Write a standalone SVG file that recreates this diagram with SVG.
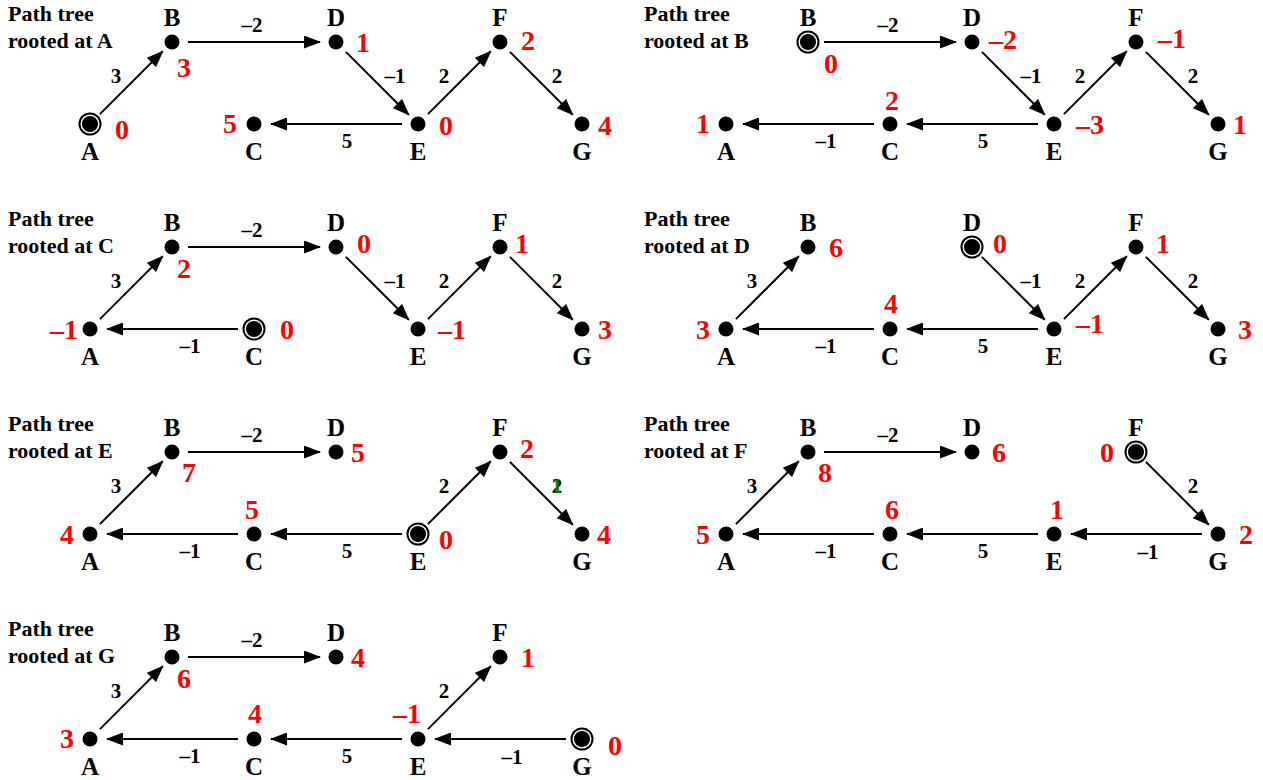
<svg xmlns="http://www.w3.org/2000/svg" width="1263" height="780" viewBox="0 0 1263 780">
<style>
text{font-family:"Liberation Serif","Times New Roman",serif;font-weight:bold}
.title{font-size:22px;fill:#000}
.lbl{font-size:25px;text-anchor:middle;fill:#000}
.w{font-size:21px;text-anchor:middle;fill:#000}
.g{font-size:21px;text-anchor:middle;fill:#008000}
.v{font-size:28px;text-anchor:middle;fill:#ff0000}
.e{stroke:#000;stroke-width:2;fill:none;marker-end:url(#ah)}
.dot{fill:#000}
.ring{fill:none;stroke:#fff;stroke-width:1.5}
</style>
<defs>
<marker id="ah" markerUnits="userSpaceOnUse" viewBox="0 0 17 13" refX="16" refY="6.5" markerWidth="17" markerHeight="13" orient="auto">
<path d="M0,0 L17,6.5 L0,13 Z" fill="#000"/>
</marker>
<line id="eAB" x1="99.9" y1="114.1" x2="162.8" y2="51.2" class="e"/>
<line id="eBD" x1="188" y1="42" x2="320" y2="42" class="e"/>
<line id="eDE" x1="345.9" y1="51.9" x2="408.8" y2="114.8" class="e"/>
<line id="eEF" x1="427.9" y1="114.1" x2="490.8" y2="51.2" class="e"/>
<line id="eFG" x1="509.9" y1="51.9" x2="572.8" y2="114.8" class="e"/>
<line id="eEC" x1="402" y1="124" x2="271" y2="124" class="e"/>
<line id="eCA" x1="238" y1="124" x2="107" y2="124" class="e"/>
<line id="eGE" x1="566" y1="124" x2="435" y2="124" class="e"/>
</defs>

<!-- Panel A -->
<g id="panelA" transform="translate(0,0)">
<text class="title" x="8" y="21">Path tree</text>
<text class="title" x="8" y="48">rooted at A</text>
<g id="pA-edges">
<use href="#eAB"/><use href="#eBD"/><use href="#eDE"/><use href="#eEF"/><use href="#eFG"/><use href="#eEC"/>
<text class="w" x="116" y="83">3</text>
<text class="w" x="252" y="32">–2</text>
<text class="w" x="395" y="83">–1</text>
<text class="w" x="444" y="83">2</text>
<text class="w" x="557" y="83">2</text>
<text class="w" x="347" y="148">5</text>
</g>
<g id="pA-A"><circle cx="90" cy="124" r="11.5" class="dot"/><circle cx="90" cy="124" r="8.8" class="ring"/><text class="lbl" x="90" y="160">A</text><text class="v" x="122" y="139">0</text></g>
<g id="pA-B"><circle cx="172" cy="42" r="7.5" class="dot"/><text class="lbl" x="172" y="26">B</text><text class="v" x="184" y="77">3</text></g>
<g id="pA-C"><circle cx="254" cy="124" r="7.5" class="dot"/><text class="lbl" x="254" y="160">C</text><text class="v" x="230" y="133">5</text></g>
<g id="pA-D"><circle cx="336" cy="42" r="7.5" class="dot"/><text class="lbl" x="336" y="26">D</text><text class="v" x="363" y="52">1</text></g>
<g id="pA-E"><circle cx="418" cy="124" r="7.5" class="dot"/><text class="lbl" x="418" y="160">E</text><text class="v" x="446" y="135">0</text></g>
<g id="pA-F"><circle cx="500" cy="42" r="7.5" class="dot"/><text class="lbl" x="500" y="26">F</text><text class="v" x="528" y="50">2</text></g>
<g id="pA-G"><circle cx="582" cy="124" r="7.5" class="dot"/><text class="lbl" x="582" y="160">G</text><text class="v" x="605" y="135">4</text></g>
</g>

<!-- Panel B -->
<g id="panelB" transform="translate(636,0)">
<text class="title" x="8" y="21">Path tree</text>
<text class="title" x="8" y="48">rooted at B</text>
<g id="pB-edges">
<use href="#eBD"/><use href="#eDE"/><use href="#eEF"/><use href="#eFG"/><use href="#eEC"/><use href="#eCA"/>
<text class="w" x="252" y="32">–2</text>
<text class="w" x="395" y="83">–1</text>
<text class="w" x="444" y="83">2</text>
<text class="w" x="557" y="83">2</text>
<text class="w" x="347" y="148">5</text>
<text class="w" x="190" y="148">–1</text>
</g>
<g id="pB-A"><circle cx="90" cy="124" r="7.5" class="dot"/><text class="lbl" x="90" y="160">A</text><text class="v" x="67" y="133">1</text></g>
<g id="pB-B"><circle cx="172" cy="42" r="11.5" class="dot"/><circle cx="172" cy="42" r="8.8" class="ring"/><text class="lbl" x="172" y="26">B</text><text class="v" x="195" y="73">0</text></g>
<g id="pB-C"><circle cx="254" cy="124" r="7.5" class="dot"/><text class="lbl" x="254" y="160">C</text><text class="v" x="256" y="110">2</text></g>
<g id="pB-D"><circle cx="336" cy="42" r="7.5" class="dot"/><text class="lbl" x="336" y="26">D</text><text class="v" x="367" y="49">–2</text></g>
<g id="pB-E"><circle cx="418" cy="124" r="7.5" class="dot"/><text class="lbl" x="418" y="160">E</text><text class="v" x="454" y="134">–3</text></g>
<g id="pB-F"><circle cx="500" cy="42" r="7.5" class="dot"/><text class="lbl" x="500" y="26">F</text><text class="v" x="536" y="48">–1</text></g>
<g id="pB-G"><circle cx="582" cy="124" r="7.5" class="dot"/><text class="lbl" x="582" y="160">G</text><text class="v" x="604" y="134">1</text></g>
</g>

<!-- Panel C -->
<g id="panelC" transform="translate(0,205)">
<text class="title" x="8" y="21">Path tree</text>
<text class="title" x="8" y="48">rooted at C</text>
<g id="pC-edges">
<use href="#eAB"/><use href="#eBD"/><use href="#eDE"/><use href="#eEF"/><use href="#eFG"/><use href="#eCA"/>
<text class="w" x="116" y="83">3</text>
<text class="w" x="252" y="32">–2</text>
<text class="w" x="395" y="83">–1</text>
<text class="w" x="444" y="83">2</text>
<text class="w" x="557" y="83">2</text>
<text class="w" x="190" y="148">–1</text>
</g>
<g id="pC-A"><circle cx="90" cy="124" r="7.5" class="dot"/><text class="lbl" x="90" y="160">A</text><text class="v" x="64" y="134">–1</text></g>
<g id="pC-B"><circle cx="172" cy="42" r="7.5" class="dot"/><text class="lbl" x="172" y="26">B</text><text class="v" x="184" y="73">2</text></g>
<g id="pC-C"><circle cx="254" cy="124" r="11.5" class="dot"/><circle cx="254" cy="124" r="8.8" class="ring"/><text class="lbl" x="254" y="160">C</text><text class="v" x="287" y="134">0</text></g>
<g id="pC-D"><circle cx="336" cy="42" r="7.5" class="dot"/><text class="lbl" x="336" y="26">D</text><text class="v" x="364" y="48">0</text></g>
<g id="pC-E"><circle cx="418" cy="124" r="7.5" class="dot"/><text class="lbl" x="418" y="160">E</text><text class="v" x="452" y="134">–1</text></g>
<g id="pC-F"><circle cx="500" cy="42" r="7.5" class="dot"/><text class="lbl" x="500" y="26">F</text><text class="v" x="522" y="48">1</text></g>
<g id="pC-G"><circle cx="582" cy="124" r="7.5" class="dot"/><text class="lbl" x="582" y="160">G</text><text class="v" x="605" y="134">3</text></g>
</g>

<!-- Panel D -->
<g id="panelD" transform="translate(636,205)">
<text class="title" x="8" y="21">Path tree</text>
<text class="title" x="8" y="48">rooted at D</text>
<g id="pD-edges">
<use href="#eAB"/><use href="#eDE"/><use href="#eEF"/><use href="#eFG"/><use href="#eEC"/><use href="#eCA"/>
<text class="w" x="116" y="83">3</text>
<text class="w" x="395" y="83">–1</text>
<text class="w" x="444" y="83">2</text>
<text class="w" x="557" y="83">2</text>
<text class="w" x="347" y="148">5</text>
<text class="w" x="190" y="148">–1</text>
</g>
<g id="pD-A"><circle cx="90" cy="124" r="7.5" class="dot"/><text class="lbl" x="90" y="160">A</text><text class="v" x="67" y="134">3</text></g>
<g id="pD-B"><circle cx="172" cy="42" r="7.5" class="dot"/><text class="lbl" x="172" y="26">B</text><text class="v" x="200" y="52">6</text></g>
<g id="pD-C"><circle cx="254" cy="124" r="7.5" class="dot"/><text class="lbl" x="254" y="160">C</text><text class="v" x="255" y="108">4</text></g>
<g id="pD-D"><circle cx="336" cy="42" r="11.5" class="dot"/><circle cx="336" cy="42" r="8.8" class="ring"/><text class="lbl" x="336" y="26">D</text><text class="v" x="364" y="48">0</text></g>
<g id="pD-E"><circle cx="418" cy="124" r="7.5" class="dot"/><text class="lbl" x="418" y="160">E</text><text class="v" x="454" y="128">–1</text></g>
<g id="pD-F"><circle cx="500" cy="42" r="7.5" class="dot"/><text class="lbl" x="500" y="26">F</text><text class="v" x="527" y="48">1</text></g>
<g id="pD-G"><circle cx="582" cy="124" r="7.5" class="dot"/><text class="lbl" x="582" y="160">G</text><text class="v" x="609" y="134">3</text></g>
</g>

<!-- Panel E -->
<g id="panelE" transform="translate(0,410)">
<text class="title" x="8" y="21">Path tree</text>
<text class="title" x="8" y="48">rooted at E</text>
<g id="pE-edges">
<use href="#eAB"/><use href="#eBD"/><use href="#eEF"/><use href="#eFG"/><use href="#eEC"/><use href="#eCA"/>
<text class="w" x="116" y="83">3</text>
<text class="w" x="252" y="32">–2</text>
<text class="w" x="444" y="83">2</text>
<text class="w" x="557" y="83">2</text>
<text class="g" x="557" y="83">1</text>
<text class="w" x="347" y="148">5</text>
<text class="w" x="190" y="148">–1</text>
</g>
<g id="pE-A"><circle cx="90" cy="124" r="7.5" class="dot"/><text class="lbl" x="90" y="160">A</text><text class="v" x="67" y="134">4</text></g>
<g id="pE-B"><circle cx="172" cy="42" r="7.5" class="dot"/><text class="lbl" x="172" y="26">B</text><text class="v" x="189" y="72">7</text></g>
<g id="pE-C"><circle cx="254" cy="124" r="7.5" class="dot"/><text class="lbl" x="254" y="160">C</text><text class="v" x="252" y="109">5</text></g>
<g id="pE-D"><circle cx="336" cy="42" r="7.5" class="dot"/><text class="lbl" x="336" y="26">D</text><text class="v" x="358" y="52">5</text></g>
<g id="pE-E"><circle cx="418" cy="124" r="11.5" class="dot"/><circle cx="418" cy="124" r="8.8" class="ring"/><text class="lbl" x="418" y="160">E</text><text class="v" x="446" y="139">0</text></g>
<g id="pE-F"><circle cx="500" cy="42" r="7.5" class="dot"/><text class="lbl" x="500" y="26">F</text><text class="v" x="527" y="48">2</text></g>
<g id="pE-G"><circle cx="582" cy="124" r="7.5" class="dot"/><text class="lbl" x="582" y="160">G</text><text class="v" x="604" y="134">4</text></g>
</g>

<!-- Panel F -->
<g id="panelF" transform="translate(636,410)">
<text class="title" x="8" y="21">Path tree</text>
<text class="title" x="8" y="48">rooted at F</text>
<g id="pF-edges">
<use href="#eAB"/><use href="#eBD"/><use href="#eFG"/><use href="#eGE"/><use href="#eEC"/><use href="#eCA"/>
<text class="w" x="116" y="83">3</text>
<text class="w" x="252" y="32">–2</text>
<text class="w" x="557" y="83">2</text>
<text class="w" x="512" y="149">–1</text>
<text class="w" x="347" y="148">5</text>
<text class="w" x="190" y="148">–1</text>
</g>
<g id="pF-A"><circle cx="90" cy="124" r="7.5" class="dot"/><text class="lbl" x="90" y="160">A</text><text class="v" x="67" y="134">5</text></g>
<g id="pF-B"><circle cx="172" cy="42" r="7.5" class="dot"/><text class="lbl" x="172" y="26">B</text><text class="v" x="189" y="72">8</text></g>
<g id="pF-C"><circle cx="254" cy="124" r="7.5" class="dot"/><text class="lbl" x="254" y="160">C</text><text class="v" x="256" y="109">6</text></g>
<g id="pF-D"><circle cx="336" cy="42" r="7.5" class="dot"/><text class="lbl" x="336" y="26">D</text><text class="v" x="363" y="52">6</text></g>
<g id="pF-E"><circle cx="418" cy="124" r="7.5" class="dot"/><text class="lbl" x="418" y="160">E</text><text class="v" x="421" y="109">1</text></g>
<g id="pF-F"><circle cx="500" cy="42" r="11.5" class="dot"/><circle cx="500" cy="42" r="8.8" class="ring"/><text class="lbl" x="500" y="26">F</text><text class="v" x="471" y="52">0</text></g>
<g id="pF-G"><circle cx="582" cy="124" r="7.5" class="dot"/><text class="lbl" x="582" y="160">G</text><text class="v" x="610" y="134">2</text></g>
</g>

<!-- Panel G -->
<g id="panelG" transform="translate(0,615)">
<text class="title" x="8" y="21">Path tree</text>
<text class="title" x="8" y="48">rooted at G</text>
<g id="pG-edges">
<use href="#eAB"/><use href="#eBD"/><use href="#eEF"/><use href="#eGE"/><use href="#eEC"/><use href="#eCA"/>
<text class="w" x="116" y="83">3</text>
<text class="w" x="252" y="32">–2</text>
<text class="w" x="444" y="83">2</text>
<text class="w" x="512" y="149">–1</text>
<text class="w" x="347" y="148">5</text>
<text class="w" x="190" y="148">–1</text>
</g>
<g id="pG-A"><circle cx="90" cy="124" r="7.5" class="dot"/><text class="lbl" x="90" y="160">A</text><text class="v" x="67" y="133">3</text></g>
<g id="pG-B"><circle cx="172" cy="42" r="7.5" class="dot"/><text class="lbl" x="172" y="26">B</text><text class="v" x="184" y="73">6</text></g>
<g id="pG-C"><circle cx="254" cy="124" r="7.5" class="dot"/><text class="lbl" x="254" y="160">C</text><text class="v" x="255" y="108">4</text></g>
<g id="pG-D"><circle cx="336" cy="42" r="7.5" class="dot"/><text class="lbl" x="336" y="26">D</text><text class="v" x="358" y="52">4</text></g>
<g id="pG-E"><circle cx="418" cy="124" r="7.5" class="dot"/><text class="lbl" x="418" y="160">E</text><text class="v" x="407" y="108">–1</text></g>
<g id="pG-F"><circle cx="500" cy="42" r="7.5" class="dot"/><text class="lbl" x="500" y="26">F</text><text class="v" x="528" y="52">1</text></g>
<g id="pG-G"><circle cx="582" cy="124" r="11.5" class="dot"/><circle cx="582" cy="124" r="8.8" class="ring"/><text class="lbl" x="582" y="160">G</text><text class="v" x="615" y="140">0</text></g>
</g>
</svg>
